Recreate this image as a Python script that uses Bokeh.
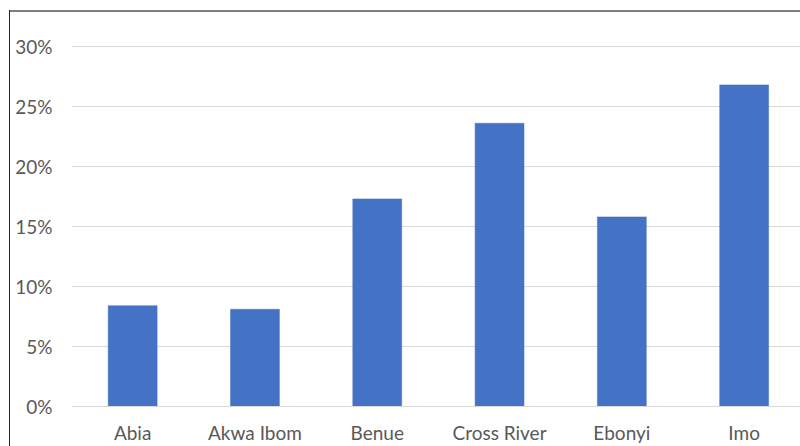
from bokeh.plotting import figure
from bokeh.models import Range1d, FixedTicker, NumeralTickFormatter, ColumnDataSource
from bokeh.embed import file_html
from bokeh.resources import INLINE

# Share by state
states = ["Abia", "Akwa Ibom", "Benue", "Cross River", "Ebonyi", "Imo"]
shares = [0.084, 0.081, 0.173, 0.236, 0.158, 0.268]
y_ticks = [0.0, 0.05, 0.10, 0.15, 0.20, 0.25, 0.30]

BAR = "#4472C4"
GRID = "#D9D9D9"
TEXT = "#595959"
FONT = "Lato"

# each state sits in the middle of a unit-wide slot
positions = [i + 0.5 for i in range(len(states))]
src = ColumnDataSource(dict(x=positions, top=shares, state=states))

p = figure(width=800, height=446, output_backend="svg", toolbar_location=None,
           x_range=Range1d(0, 729 / 122.3), y_range=Range1d(0, 0.305),
           min_border_left=71, min_border_right=0,
           min_border_top=40, min_border_bottom=40)

p.vbar(x="x", top="top", bottom=0, width=0.4, source=src,
       fill_color=BAR, line_color=BAR, line_width=0.5)

# y axis: percentages, no line / ticks
p.yaxis.ticker = FixedTicker(ticks=y_ticks)
p.yaxis.formatter = NumeralTickFormatter(format="0%")
p.yaxis.axis_line_color = None
p.yaxis.major_tick_line_color = None
p.yaxis.minor_tick_line_color = None
p.yaxis.major_tick_out = 0
p.yaxis.major_label_standoff = 19
p.yaxis.major_label_text_font = FONT
p.yaxis.major_label_text_font_size = "19px"
p.yaxis.major_label_text_color = TEXT

# x axis: state names under each bar
p.xaxis.ticker = FixedTicker(ticks=positions)
p.xaxis.major_label_overrides = {x: s for x, s in zip(positions, states)}
p.xaxis.axis_line_color = GRID
p.xaxis.axis_line_width = 1
p.xaxis.major_tick_line_color = None
p.xaxis.minor_tick_line_color = None
p.xaxis.major_tick_out = 0
p.xaxis.major_label_standoff = 14
p.xaxis.major_label_text_font = FONT
p.xaxis.major_label_text_font_size = "19px"
p.xaxis.major_label_text_color = TEXT

p.xgrid.grid_line_color = None
p.ygrid.ticker = FixedTicker(ticks=y_ticks)
p.ygrid.grid_line_color = GRID
p.ygrid.grid_line_width = 1

p.outline_line_color = None
p.background_fill_color = "white"
# transparent surround so the chart-area edges painted behind show through
p.border_fill_color = None
p.styles = {
    "background-color": "white",
    "background-image": "linear-gradient(#262626, #262626), "
                        "linear-gradient(#7F7F7F, #7F7F7F)",
    "background-size": "1px 440px, 795px 2px",
    "background-position": "9px 10px, 9px 10px",
    "background-repeat": "no-repeat",
}

open("out.html", "w").write(file_html(p, INLINE))
